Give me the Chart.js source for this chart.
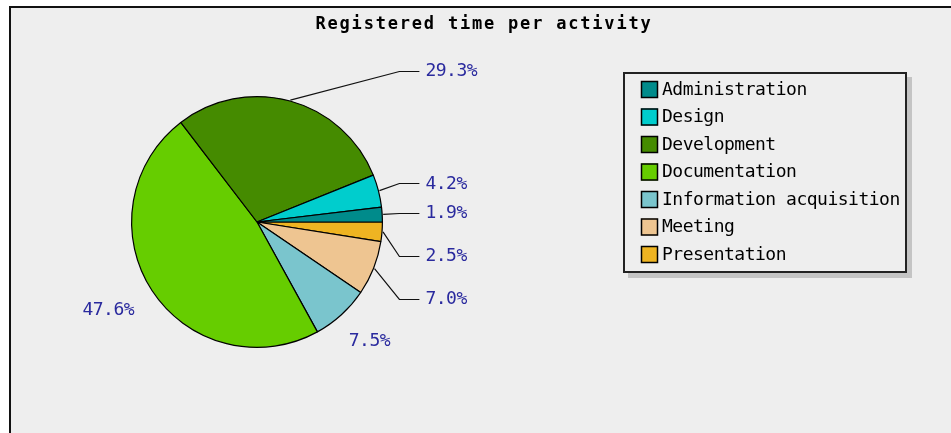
<!DOCTYPE html>
<html>
<head>
<meta charset="utf-8">
<script src="https://cdn.jsdelivr.net/npm/chart.js@4"></script>
<style>
  body { margin: 0; background: #fff; }
  #pie { display: block; }
</style>
</head>
<body>
<canvas id="pie" width="951" height="433"></canvas>
<script>
// Data (legend order)
const activities = ['Administration', 'Design', 'Development', 'Documentation', 'Information acquisition', 'Meeting', 'Presentation'];
const shares = [1.9, 4.2, 29.3, 47.6, 7.5, 7.0, 2.5];
const sliceColors = ['#008b8b', '#00cdcd', '#458b00', '#66cd00', '#7ac5cd', '#eec591', '#eeb422'];
const titleText = 'Registered time per activity';
// labels that sit next to the pie without a guide line
const freeLabels = ['Documentation', 'Information acquisition'];

const labelColor = '#2a2a9e';
const monoFont = '"DejaVu Sans Mono", "Liberation Mono", monospace';

// Chart.js goes clockwise, the original goes counter-clockwise from 3 o'clock
const rev = a => a.slice().reverse();

// Frame + title
const backdrop = {
  id: 'backdrop',
  beforeDraw(chart) {
    const ctx = chart.ctx;
    ctx.save();
    ctx.fillStyle = '#ffffff';
    ctx.fillRect(0, 0, chart.width, chart.height);
    ctx.fillStyle = '#eeeeee';
    ctx.fillRect(9, 6, chart.width, chart.height);
    ctx.fillStyle = '#111';
    ctx.fillRect(9, 6, chart.width, 2);
    ctx.fillRect(9, 6, 2, chart.height);

    ctx.font = 'bold 17px ' + monoFont;
    ctx.letterSpacing = '1.8px';
    ctx.fillStyle = '#000';
    ctx.textAlign = 'center';
    ctx.textBaseline = 'middle';
    ctx.fillText(titleText, 484, 25);
    ctx.restore();
  }
};

// Percent labels with guide lines
const pieLabels = {
  id: 'pieLabels',
  afterDatasetsDraw(chart) {
    const ctx = chart.ctx;
    const arcs = chart.getDatasetMeta(0).data;
    const names = chart.data.labels;
    const vals = chart.data.datasets[0].data;
    const total = vals.reduce((s, v) => s + v, 0);
    ctx.save();
    ctx.font = '18px ' + monoFont;
    ctx.letterSpacing = '-0.5px';
    ctx.fillStyle = labelColor;
    ctx.strokeStyle = '#111';
    ctx.lineWidth = 1.2;

    const guided = [];
    arcs.forEach((arc, i) => {
      const a = (arc.startAngle + arc.endAngle) / 2;
      const R = arc.outerRadius;
      const txt = (vals[i] / total * 100).toFixed(1) + '%';
      if (freeLabels.includes(names[i]) || Math.cos(a) <= 0) {
        const w = ctx.measureText(txt).width, h = 20;
        const ax = arc.x + (R + 24) * Math.cos(a);
        const ay = arc.y + (R + 24) * Math.sin(a);
        ctx.textAlign = 'center';
        ctx.textBaseline = 'middle';
        ctx.fillText(txt, ax + w / 2 * Math.cos(a) - 2, ay + h / 2 * Math.sin(a) + 1);
      } else {
        guided.push({ a, R, cx: arc.x, cy: arc.y, txt, y: arc.y + 1.25 * R * Math.sin(a) });
      }
    });

    // spread guided labels vertically, starting near the horizontal
    const upper = guided.filter(g => Math.sin(g.a) <= 0).sort((p, q) => Math.abs(Math.sin(p.a)) - Math.abs(Math.sin(q.a)));
    const lower = guided.filter(g => Math.sin(g.a) > 0).sort((p, q) => Math.sin(p.a) - Math.sin(q.a));
    let prev = null;
    upper.forEach(g => { if (prev !== null) g.y = Math.min(g.y, prev - 28); prev = g.y; });
    prev = upper.length ? upper[0].y : null;
    lower.forEach(g => { if (prev !== null) g.y = Math.max(g.y, prev + 43); prev = g.y; });

    guided.forEach(g => {
      const x0 = g.cx + (g.R + 1) * Math.cos(g.a);
      const y0 = g.cy + (g.R + 1) * Math.sin(g.a);
      const kx = g.cx + g.R + 17;
      const ex = g.cx + g.R + 37;
      ctx.beginPath();
      ctx.moveTo(x0, y0);
      ctx.lineTo(kx, Math.round(g.y) + 0.5);
      ctx.lineTo(ex, Math.round(g.y) + 0.5);
      ctx.stroke();
      ctx.textAlign = 'left';
      ctx.textBaseline = 'middle';
      ctx.fillText(g.txt, ex + 6, g.y + 1);
    });
    ctx.restore();
  }
};

// Boxed legend with shadow
const boxLegend = {
  id: 'boxLegend',
  afterDraw(chart) {
    const ctx = chart.ctx;
    const x = 623, y = 72, w = 284, h = 201;
    ctx.save();
    ctx.fillStyle = '#c4c4c4';
    ctx.fillRect(x + 5, y + 5, w, h);
    ctx.fillStyle = '#eeeeee';
    ctx.fillRect(x, y, w, h);
    ctx.strokeStyle = '#222';
    ctx.lineWidth = 2;
    ctx.strokeRect(x + 1, y + 1, w - 2, h - 2);

    ctx.font = '18px ' + monoFont;
    ctx.letterSpacing = '-0.5px';
    ctx.textAlign = 'left';
    ctx.textBaseline = 'middle';
    activities.forEach((name, i) => {
      const ry = 81 + i * 27.5;
      ctx.fillStyle = sliceColors[i];
      ctx.fillRect(641, ry, 17, 17);
      ctx.strokeStyle = '#000';
      ctx.lineWidth = 1.5;
      ctx.strokeRect(641.5, ry + 0.5, 16, 16);
      ctx.fillStyle = '#000';
      ctx.fillText(name, 662, ry + 9);
    });
    ctx.restore();
  }
};

new Chart(document.getElementById('pie'), {
  type: 'pie',
  data: {
    labels: rev(activities),
    datasets: [{
      data: rev(shares),
      backgroundColor: rev(sliceColors),
      borderColor: '#000',
      borderWidth: 1.2
    }]
  },
  options: {
    responsive: false,
    animation: false,
    rotation: 90,
    layout: { padding: { left: 131, right: 568, top: 96, bottom: 85 } },
    plugins: {
      legend: { display: false },
      title: { display: false },
      tooltip: { enabled: false }
    }
  },
  plugins: [backdrop, pieLabels, boxLegend]
});
</script>
</body>
</html>
